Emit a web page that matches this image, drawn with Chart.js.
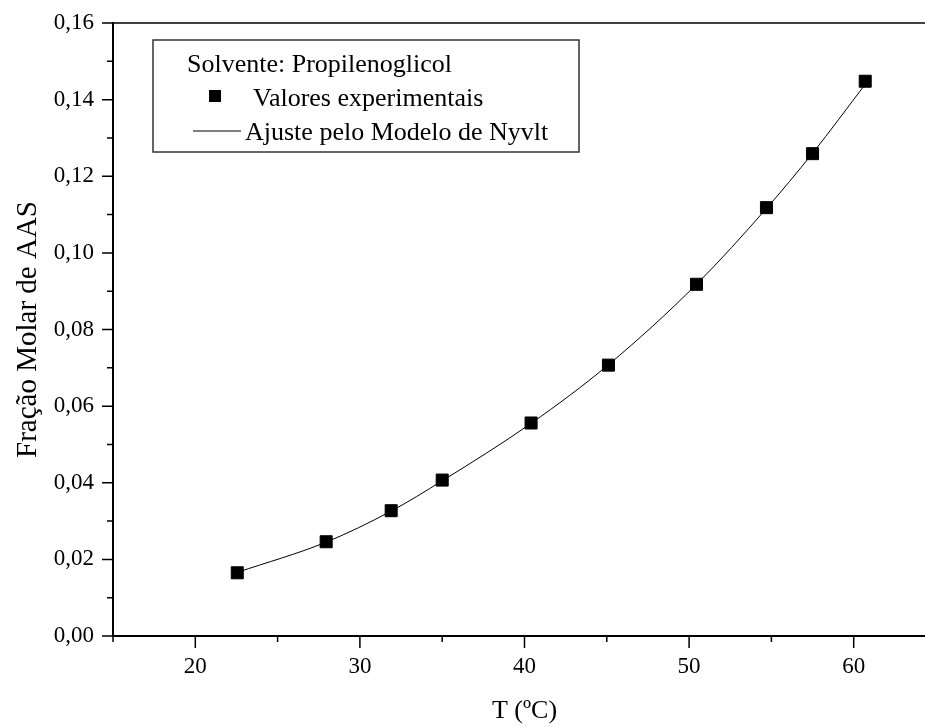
<!DOCTYPE html>
<html>
<head>
<meta charset="utf-8">
<script src="https://cdn.jsdelivr.net/npm/chart.js@4.4.1/dist/chart.umd.min.js"></script>
<style>
  html, body { margin: 0; padding: 0; background: #fff; overflow: hidden; }
  #wrap { width: 950px; height: 727px; }
</style>
</head>
<body>
<div id="wrap"><canvas id="mycanvas" width="950" height="727"></canvas></div>
<script>
// valores
var temperaturas = [22.55, 27.95, 31.9, 35.0, 40.4, 45.1, 50.45, 54.7, 57.5, 60.7];
var fracaoMolar = [0.0165, 0.0246, 0.0327, 0.0407, 0.0556, 0.0707, 0.0918, 0.1118, 0.1259, 0.1448];
var ajusteT = [22.55, 27.95, 31.9, 35.0, 40.4, 45.1, 50.45, 54.7, 57.5, 60.7];
var ajusteY = [0.0166, 0.0245, 0.0326, 0.0405, 0.0555, 0.0708, 0.0918, 0.1116, 0.1260, 0.1440];

var tituloLegenda = 'Solvente: Propilenoglicol';
var nomeSerieExp = 'Valores experimentais';
var nomeSerieAjuste = 'Ajuste pelo Modelo de Nyvlt';
var tituloX = 'T (\u00baC)';
var tituloY = 'Fra\u00e7\u00e3o Molar de AAS';

var xMin = 15, xMax = 65, xStep = 5;
var yMin = 0, yMax = 0.16, yStep = 0.01;

var fonte = '"Liberation Serif", "Times New Roman", serif';

var pontosExp = [];
for (var i in temperaturas) {
  pontosExp.push({x: temperaturas[i], y: fracaoMolar[i]});
}
var pontosAjuste = [];
for (var j in ajusteT) {
  pontosAjuste.push({x: ajusteT[j], y: ajusteY[j]});
}

// ticks maiores e menores + linha de cima
var eixosPlugin = {
  id: 'eixos',
  afterDraw: function(chart) {
    var ctx = chart.ctx;
    var area = chart.chartArea;
    var sx = chart.scales.x, sy = chart.scales.y;
    ctx.save();
    ctx.strokeStyle = '#000';
    ctx.lineWidth = 1.5;
    ctx.beginPath();
    sx.ticks.forEach(function(t) {
      var px = sx.getPixelForValue(t.value);
      var major = Math.round(t.value) % 10 === 0;
      ctx.moveTo(px, area.bottom);
      ctx.lineTo(px, area.bottom + (major ? 12 : 6));
    });
    sy.ticks.forEach(function(t) {
      var py = sy.getPixelForValue(t.value);
      var major = Math.round(t.value * 100) % 2 === 0;
      ctx.moveTo(area.left, py);
      ctx.lineTo(area.left - (major ? 11 : 6), py);
    });
    ctx.stroke();
    ctx.lineWidth = 1.5;
    ctx.beginPath();
    ctx.moveTo(area.left, area.top);
    ctx.lineTo(area.right, area.top);
    ctx.stroke();
    ctx.restore();
  }
};

// caixa da legenda dentro do grafico
var legendaPlugin = {
  id: 'legendaCaixa',
  afterDraw: function(chart) {
    var ctx = chart.ctx;
    ctx.save();
    ctx.strokeStyle = '#333';
    ctx.lineWidth = 1.5;
    ctx.strokeRect(153, 40, 426, 112);
    ctx.fillStyle = '#000';
    ctx.font = '26px ' + fonte;
    ctx.textBaseline = 'alphabetic';
    ctx.textAlign = 'left';
    ctx.fillText(tituloLegenda, 187, 72);
    ctx.fillRect(209, 90, 12, 12);
    ctx.fillText(nomeSerieExp, 253, 106);
    ctx.strokeStyle = '#000';
    ctx.lineWidth = 1;
    ctx.beginPath();
    ctx.moveTo(193, 131);
    ctx.lineTo(241, 131);
    ctx.stroke();
    ctx.fillText(nomeSerieAjuste, 245, 140);
    ctx.restore();
  }
};

var ctx = document.getElementById('mycanvas');

var grafico = new Chart(ctx, {
  type: 'scatter',
  data: {
    datasets: [
      {
        label: nomeSerieExp,
        data: pontosExp,
        pointStyle: 'rect',
        pointRadius: 8.5,
        pointHoverRadius: 8.5,
        pointBorderWidth: 1,
        backgroundColor: '#000',
        borderColor: '#000',
        showLine: false,
        order: 1
      },
      {
        label: nomeSerieAjuste,
        data: pontosAjuste,
        showLine: true,
        borderColor: '#000',
        borderWidth: 1,
        pointRadius: 0,
        cubicInterpolationMode: 'monotone',
        order: 2
      }
    ]
  },
  options: {
    responsive: false,
    animation: false,
    devicePixelRatio: 1,
    layout: { padding: { left: 0, top: 23, right: 14, bottom: 0 } },
    plugins: {
      legend: { display: false },
      tooltip: { enabled: false }
    },
    scales: {
      x: {
        type: 'linear',
        min: xMin,
        max: xMax,
        afterFit: function(scale) { scale.height = 91; },
        grid: { drawOnChartArea: false, tickLength: 12, tickColor: 'rgba(0,0,0,0)' },
        border: { display: true, color: '#000', width: 2 },
        ticks: {
          stepSize: xStep,
          autoSkip: false,
          maxRotation: 0,
          padding: 5,
          color: '#000',
          font: { family: fonte, size: 23 },
          callback: function(v) { return Math.round(v) % 10 === 0 ? String(v) : ''; }
        },
        title: {
          display: true,
          text: tituloX,
          color: '#000',
          font: { family: fonte, size: 26, lineHeight: 1.2 },
          padding: { top: 0, bottom: 0 }
        }
      },
      y: {
        min: yMin,
        max: yMax,
        afterFit: function(scale) { scale.width = 113; },
        grid: { drawOnChartArea: false, tickLength: 11, tickColor: 'rgba(0,0,0,0)' },
        border: { display: true, color: '#000', width: 2 },
        ticks: {
          stepSize: yStep,
          autoSkip: false,
          padding: 8,
          color: '#000',
          font: { family: fonte, size: 23 },
          callback: function(v) {
            return Math.round(v * 100) % 2 === 0 ? v.toFixed(2).replace('.', ',') : '';
          }
        },
        title: {
          display: true,
          text: tituloY,
          color: '#000',
          font: { family: fonte, size: 29, lineHeight: 1.1 },
          padding: { top: 12, bottom: 0 }
        }
      }
    }
  },
  plugins: [eixosPlugin, legendaPlugin]
});
</script>
</body>
</html>
